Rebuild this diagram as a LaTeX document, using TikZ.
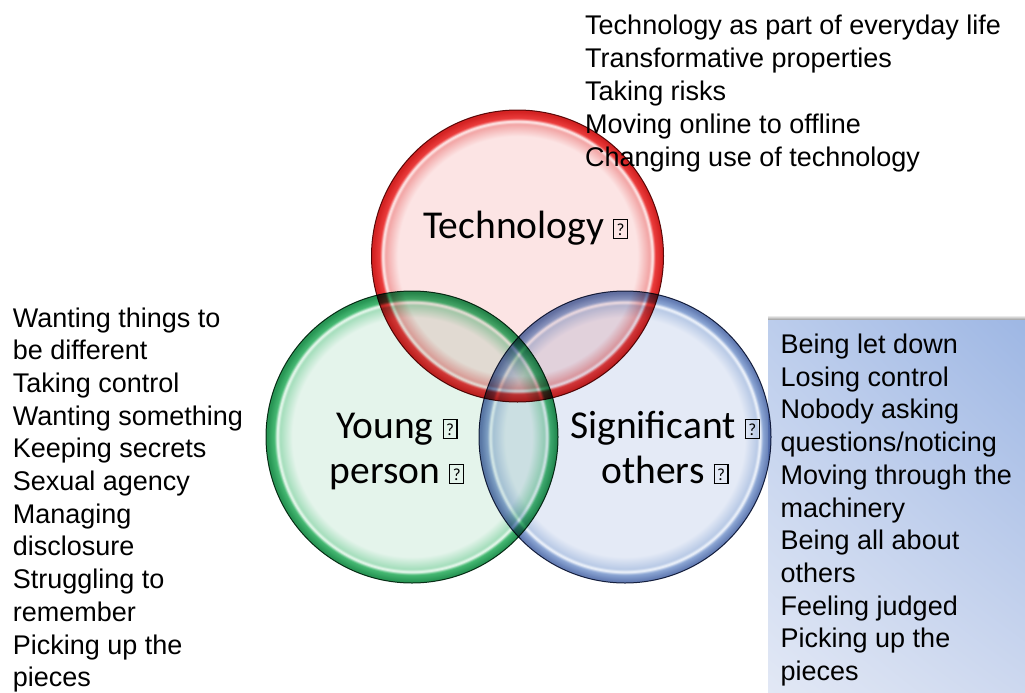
\documentclass[tikz,border=0pt]{standalone}
\usepackage{fontspec}
\setmainfont{Liberation Sans}
\newfontfamily\calib{Carlito}
\usetikzlibrary{shadings}

\definecolor{rIn}{RGB}{252,228,228}
\definecolor{rMid}{RGB}{242,165,165}
\definecolor{rHl}{RGB}{255,238,238}
\definecolor{rRim}{RGB}{235,60,60}
\definecolor{rDark}{RGB}{212,35,35}
\definecolor{rLine}{RGB}{100,20,20}

\definecolor{gIn}{RGB}{228,244,235}
\definecolor{gMid}{RGB}{165,222,188}
\definecolor{gHl}{RGB}{238,250,242}
\definecolor{gRim}{RGB}{70,185,115}
\definecolor{gDark}{RGB}{40,150,85}
\definecolor{gLine}{RGB}{20,60,38}

\definecolor{bIn}{RGB}{228,234,246}
\definecolor{bMid}{RGB}{185,202,230}
\definecolor{bHl}{RGB}{242,246,252}
\definecolor{bRim}{RGB}{140,166,212}
\definecolor{bDark}{RGB}{100,125,180}
\definecolor{bLine}{RGB}{35,45,75}

\definecolor{boxUR}{RGB}{158,183,228}
\definecolor{boxUL}{RGB}{188,205,236}
\definecolor{boxLR}{RGB}{205,216,239}
\definecolor{boxLL}{RGB}{226,232,245}

\pgfdeclareradialshading{redglass}{\pgfpoint{0bp}{0bp}}{color(0bp)=(rIn); color(20.5bp)=(rIn); color(22.6bp)=(rMid); color(23.1bp)=(rHl); color(23.6bp)=(rRim); color(24.7bp)=(rDark); color(25bp)=(rDark); color(50bp)=(rDark)}
\pgfdeclareradialshading{greenglass}{\pgfpoint{0bp}{0bp}}{color(0bp)=(gIn); color(20.5bp)=(gIn); color(22.6bp)=(gMid); color(23.1bp)=(gHl); color(23.6bp)=(gRim); color(24.7bp)=(gDark); color(25bp)=(gDark); color(50bp)=(gDark)}
\pgfdeclareradialshading{blueglass}{\pgfpoint{0bp}{0bp}}{color(0bp)=(bIn); color(20.5bp)=(bIn); color(22.6bp)=(bMid); color(23.1bp)=(bHl); color(23.6bp)=(bRim); color(24.7bp)=(bDark); color(25bp)=(bDark); color(50bp)=(bDark)}

\newcommand\mglyph{\hspace{9pt}{\setlength{\fboxsep}{0pt}\setlength{\fboxrule}{1.2pt}\framebox[15pt][c]{\rule{0pt}{18pt}\raisebox{3pt}{\fontsize{17}{17}\selectfont ?}}}}

\begin{document}
\begin{tikzpicture}[x=1pt,y=-1pt,
  venn/.style={circle, minimum size=292pt, inner sep=0pt, line width=1pt, shade},
  listtxt/.style={inner sep=0pt, anchor=base west, text=black},
  lbl/.style={inner sep=0pt, text=black, font={\calib\fontsize{39.5}{45}\selectfont}}]
\useasboundingbox (0,0) rectangle (1025,693);

% side panel
\shade[top color=white, bottom color=black!45] (768,315) rectangle (1025,320.5);
\shade[upper left=boxUL, upper right=boxUR, lower left=boxLL, lower right=boxLR] (768,320) rectangle (1025,693);

% circles
\begin{scope}[blend mode=multiply]
\node[venn, shading=redglass, draw=rLine] (tech) at (517.5,256) {};
\node[venn, shading=greenglass, draw=gLine] (young) at (412,437) {};
\node[venn, shading=blueglass, draw=bLine] (sig) at (625,437) {};
\end{scope}

% circle labels
\node[lbl, anchor=base west] (techlbl) at (423,238) {Technology\mglyph};
\node[lbl, anchor=base] (younglbl) at (397,438) {\begin{tabular}[t]{@{}c@{}}Young\mglyph\\person\mglyph\end{tabular}};
\node[lbl, anchor=base] (siglbl) at (665,438) {\begin{tabular}[t]{@{}c@{}}Significant\mglyph\\others\mglyph\end{tabular}};

% lists
\node[listtxt, font={\fontsize{27}{33}\selectfont}] (toplist) at (585,34.5) {\begin{tabular}[t]{@{}l@{}}
Technology as part of everyday life\\
Transformative properties\\
Taking risks\\
Moving online to offline\\
Changing use of technology\end{tabular}};

\node[listtxt, font={\fontsize{27}{32.7}\selectfont}] (leftlist) at (12.7,327) {\begin{tabular}[t]{@{}l@{}}
Wanting things to\\
be different\\
Taking control\\
Wanting something\\
Keeping secrets\\
Sexual agency\\
Managing\\
disclosure\\
Struggling to\\
remember\\
Picking up the\\
pieces\end{tabular}};

\node[listtxt, font={\fontsize{27}{32.7}\selectfont}] (rightlist) at (780.5,353.5) {\begin{tabular}[t]{@{}l@{}}
Being let down\\
Losing control\\
Nobody asking\\
questions/noticing\\
Moving through the\\
machinery\\
Being all about\\
others\\
Feeling judged\\
Picking up the\\
pieces\end{tabular}};
\end{tikzpicture}
\end{document}
